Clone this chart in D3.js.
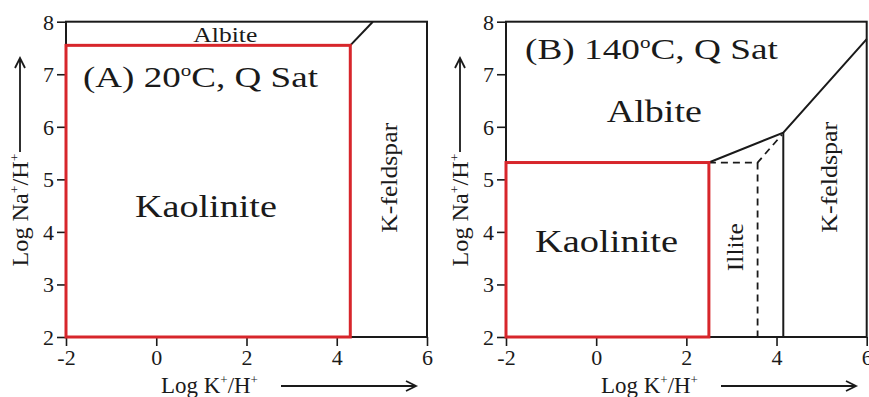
<!DOCTYPE html>
<html lang="en">
<head>
  <meta charset="UTF-8">
  <title>Activity diagrams</title>
  <style>
    html, body { margin: 0; padding: 0; background: #fff; overflow: hidden; }
    svg { display: block; font-family: "Liberation Serif", "DejaVu Serif", serif; }
    .tick text { font-family: "Liberation Serif", serif; }
  </style>
</head>
<body>
  <svg id="chart" width="869" height="397"></svg>
  <script src="https://d3js.org/d3.v7.min.js"></script>
  <script>
    // axis ticks (log activity ratios)
    const xTicks = [-2, 0, 2, 4, 6];
    const yTicks = [2, 3, 4, 5, 6, 7, 8];

    // panel A, 20 C: kaolinite field (red box) and albite / K-feldspar boundary
    const kaolA = [[-2, 2], [4.3, 7.55]];
    const boundA = [[4.3, 7.55], [4.8, 8]];

    // panel B, 140 C
    const kaolB = [[-2, 2], [2.5, 5.32]];
    const boundB = [[2.5, 5.32], [4.15, 5.89], [6, 7.67]];
    const illKfsB = [[4.15, 5.89], [4.15, 2]];
    const dashB = [[2.5, 5.32], [3.58, 5.32], [4.12, 5.85]];
    const dashVB = [[3.58, 5.32], [3.58, 2]];

    // text labels [text, x, y, font size, width, rotated]
    const labelsA = [
      ["Albite", 1.53, 7.62, 22, 64, false],
      ["Kaolinite", 1.10, 4.29, 32, 142, false],
      ["K-feldspar", 5.34, 5.03, 24, 110, true]
    ];
    const labelsB = [
      ["Albite", 1.29, 6.10, 32, 95, false],
      ["Kaolinite", 0.23, 3.62, 32, 143, false],
      ["Illite", 3.26, 3.71, 24, 48, true],
      ["K-feldspar", 5.34, 5.04, 24, 111, true]
    ];

    const RED = "#d7262b";
    const INK = "#1a1a1a";
    const svg = d3.select("#chart");

    function stretch(sel, target, rotated) {
      const w = sel.node().getComputedTextLength();
      const k = target / w;
      const tr = sel.attr("data-tr");
      sel.attr("transform", tr + (rotated ? " rotate(-90)" : "") + ` scale(${k},1)`);
    }

    function drawPanel(left, right, title, titleW, labels, drawInside) {
      const x = d3.scaleLinear().domain([-2, 6]).range([left, right]);
      const y = d3.scaleLinear().domain([2, 8]).range([337, 21.7]);
      const g = svg.append("g");
      const line = d3.line().x(d => x(d[0])).y(d => y(d[1]));

      // frame
      g.append("rect")
        .attr("x", x(-2)).attr("y", y(8))
        .attr("width", x(6) - x(-2)).attr("height", y(2) - y(8))
        .attr("fill", "none").attr("stroke", INK).attr("stroke-width", 2);

      const ax = g.append("g").attr("transform", `translate(0,${y(2)})`)
        .call(d3.axisBottom(x).tickValues(xTicks).tickSize(9).tickPadding(4).tickFormat(d => String(d)));
      const ay = g.append("g").attr("transform", `translate(${x(-2)},0)`)
        .call(d3.axisLeft(y).tickValues(yTicks).tickSize(9).tickPadding(3).tickFormat(d => String(d)));
      [ax, ay].forEach(a => {
        a.select(".domain").remove();
        a.selectAll(".tick line").attr("stroke", INK).attr("stroke-width", 1.6);
        a.selectAll(".tick text").attr("fill", INK).style("font-size", "22px")
          .style("font-family", "'Liberation Serif', serif");
      });
      ay.selectAll(".tick text").attr("dy", "0.34em");
      ax.selectAll(".tick text").attr("dy", "0.7em");

      drawInside(g, x, y, line);

      // labels inside fields
      labels.forEach(([txt, lx, ly, fs, w, rot]) => {
        const t = g.append("text")
          .attr("text-anchor", "middle")
          .attr("fill", INK)
          .style("font-size", fs + "px")
          .attr("data-tr", `translate(${x(lx)},${y(ly)})`)
          .text(txt);
        stretch(t, w, rot);
      });

      // title
      const tt = g.append("text").attr("fill", INK).style("font-size", "30px")
        .attr("data-tr", `translate(${x(-2) + title[1]},${title[2]})`);
      tt.append("tspan").text(title[0]);
      tt.append("tspan").attr("dy", -11).style("font-size", "17px").text("o");
      tt.append("tspan").attr("dy", 11).text("C, Q Sat");
      stretch(tt, titleW, false);

      // x axis label + arrow
      const xl = g.append("text").attr("fill", INK).style("font-size", "23px")
        .attr("data-tr", `translate(${x(-2) + 95},393)`);
      xl.append("tspan").text("Log K");
      xl.append("tspan").attr("dy", -9).style("font-size", "13px").text("+");
      xl.append("tspan").attr("dy", 9).text("/H");
      xl.append("tspan").attr("dy", -9).style("font-size", "13px").text("+");
      stretch(xl, 97, false);
      const ya = 386;
      g.append("path")
        .attr("d", `M${x(-2) + 215},${ya}H${x(-2) + 350}M${x(-2) + 340},${ya - 5}L${x(-2) + 350},${ya}L${x(-2) + 340},${ya + 5}`)
        .attr("fill", "none").attr("stroke", INK).attr("stroke-width", 1.8);

      // y axis label + arrow
      const yl = g.append("text").attr("fill", INK).style("font-size", "23px")
        .attr("text-anchor", "middle")
        .attr("data-tr", `translate(${x(-2) - 38},210)`);
      yl.append("tspan").text("Log Na");
      yl.append("tspan").attr("dy", -9).style("font-size", "13px").text("+");
      yl.append("tspan").attr("dy", 9).text("/H");
      yl.append("tspan").attr("dy", -9).style("font-size", "13px").text("+");
      stretch(yl, 113, true);
      const xa = x(-2) - 46;
      g.append("path")
        .attr("d", `M${xa},152V58M${xa - 5},68L${xa},58L${xa + 5},68`)
        .attr("fill", "none").attr("stroke", INK).attr("stroke-width", 1.8);
    }

    drawPanel(66, 427, ["(A) 20", 17, 86.7], 235, labelsA, (g, x, y, line) => {
      g.append("path").attr("d", line(boundA))
        .attr("fill", "none").attr("stroke", INK).attr("stroke-width", 2);
      g.append("rect")
        .attr("x", x(kaolA[0][0])).attr("y", y(kaolA[1][1]))
        .attr("width", x(kaolA[1][0]) - x(kaolA[0][0]))
        .attr("height", y(kaolA[0][1]) - y(kaolA[1][1]))
        .attr("fill", "none").attr("stroke", RED).attr("stroke-width", 3);
    });

    drawPanel(506, 866.7, ["(B) 140", 19, 59.3], 253, labelsB, (g, x, y, line) => {
      [boundB, illKfsB].forEach(p => g.append("path").attr("d", line(p))
        .attr("fill", "none").attr("stroke", INK).attr("stroke-width", 2));
      [dashB, dashVB].forEach(p => g.append("path").attr("d", line(p))
        .attr("fill", "none").attr("stroke", INK).attr("stroke-width", 1.8)
        .attr("stroke-dasharray", "7,5"));
      g.append("rect")
        .attr("x", x(kaolB[0][0])).attr("y", y(kaolB[1][1]))
        .attr("width", x(kaolB[1][0]) - x(kaolB[0][0]))
        .attr("height", y(kaolB[0][1]) - y(kaolB[1][1]))
        .attr("fill", "none").attr("stroke", RED).attr("stroke-width", 3);
    });
  </script>
</body>
</html>
